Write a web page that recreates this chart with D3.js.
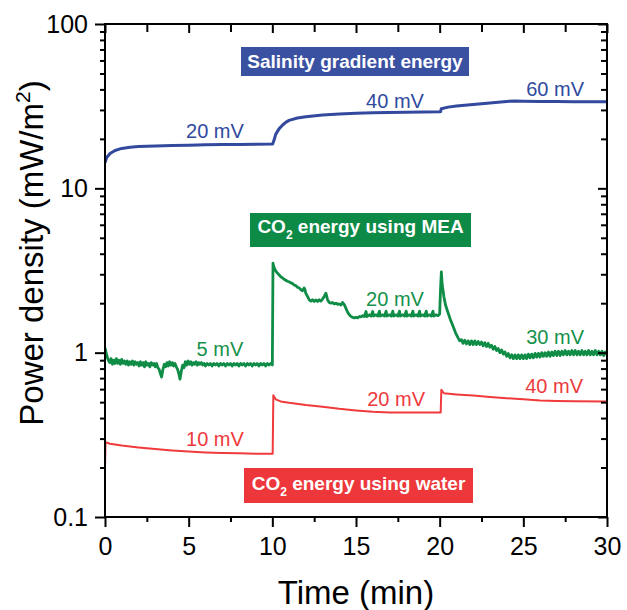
<!DOCTYPE html>
<html>
<head>
<meta charset="utf-8">
<script src="https://cdn.jsdelivr.net/npm/d3@7/dist/d3.min.js"></script>
<style>
  html, body { margin: 0; padding: 0; background: #fff; }
  svg { display: block; }
  text { font-family: "Liberation Sans", Arial, sans-serif; }
</style>
</head>
<body>
<svg id="chart" width="627" height="610"></svg>
<script>
// ---------------- DATA ----------------
const xTicks = [0, 5, 10, 15, 20, 25, 30];
const xMinorTicks = [2.5, 7.5, 12.5, 17.5, 22.5, 27.5];
const yTicks = [0.1, 1, 10, 100];
const yTickLabels = ["0.1", "1", "10", "100"];
const yMinorTicks = [0.2,0.3,0.4,0.5,0.6,0.7,0.8,0.9, 2,3,4,5,6,7,8,9, 20,30,40,50,60,70,80,90];

const seriesNames = ["Salinity gradient energy", "CO2 energy using MEA", "CO2 energy using water"];

// Salinity gradient energy (blue): [time (min), power density (mW/m2)]
const blueData = [
  [0,14.3],[0.1,15.4],[0.3,16.3],[0.6,17.0],[1,17.5],[1.5,17.8],[2,17.95],[3,18.1],[4,18.2],[5,18.3],
  [6,18.4],[7,18.45],[8,18.5],[9,18.55],[10.02,18.6],
  [10.1,19.6],[10.2,21.3],[10.4,23.0],[10.6,24.2],[10.8,25.2],[11,25.9],[11.5,26.8],[12,27.3],[13,27.9],
  [14,28.3],[15,28.6],[16,28.8],[17,28.9],[18,29.0],[19,29.1],[20.05,29.2],
  [20.1,30.5],[20.5,31.2],[21,31.7],[22,32.4],[23,33.1],[24,33.8],[24.5,34.0],[25,33.9],[26,33.8],
  [27,33.8],[28,33.7],[29,33.7],[30,33.6]
];

// CO2 energy using MEA (green)
const greenData = [
  [0,1.07],[0.05,1.02],[0.12,0.95],[0.2,0.9],[0.28,0.87],[0.36,0.92],[0.44,0.85],[0.52,0.9],[0.6,0.86],[0.68,0.92],
  [0.76,0.86],[0.84,0.9],[0.92,0.85],[1.0,0.91],[1.08,0.86],[1.16,0.89],[1.24,0.85],[1.32,0.89],[1.4,0.84],[1.48,0.88],
  [1.56,0.85],[1.64,0.89],[1.72,0.84],[1.8,0.88],[1.88,0.85],[1.96,0.87],[2.04,0.83],[2.12,0.88],[2.2,0.84],[2.28,0.87],
  [2.36,0.82],[2.44,0.88],[2.52,0.84],[2.6,0.86],[2.68,0.82],[2.76,0.87],[2.84,0.84],[2.92,0.86],[3.0,0.82],[3.08,0.86],
  [3.16,0.81],[3.24,0.79],[3.32,0.74],[3.38,0.71],[3.46,0.79],[3.54,0.85],[3.62,0.82],[3.7,0.87],[3.78,0.83],[3.86,0.88],
  [3.94,0.84],[4.02,0.87],[4.1,0.83],[4.18,0.86],[4.26,0.82],[4.34,0.79],[4.42,0.74],[4.48,0.69],[4.56,0.77],[4.64,0.84],
  [4.72,0.81],[4.8,0.88],[4.88,0.84],[4.96,0.89],[5.04,0.85],[5.12,0.88],[5.2,0.84],[5.28,0.87],[5.36,0.85],[5.44,0.88],
  [5.52,0.84],[5.6,0.87],[5.68,0.85],[5.76,0.87],[5.84,0.84],[5.92,0.86],[6.0,0.83],[6.1,0.86],[6.2,0.84],[6.3,0.86],
  [6.4,0.83],[6.5,0.86],[6.6,0.84],[6.7,0.86],[6.8,0.83],[6.9,0.86],[7.0,0.84],[7.1,0.86],[7.2,0.83],[7.3,0.86],
  [7.4,0.84],[7.5,0.86],[7.6,0.83],[7.7,0.86],[7.8,0.84],[7.9,0.86],[8.0,0.83],[8.1,0.86],[8.2,0.84],[8.3,0.86],
  [8.4,0.83],[8.5,0.86],[8.6,0.84],[8.7,0.86],[8.8,0.83],[8.9,0.86],[9.0,0.84],[9.1,0.86],[9.2,0.83],[9.3,0.86],
  [9.4,0.84],[9.5,0.86],[9.6,0.83],[9.7,0.86],[9.8,0.84],[9.9,0.86],[10.0,0.84],
  [10.04,3.5],[10.1,3.3],[10.2,3.15],[10.3,3.05],[10.4,2.98],[10.5,2.9],[10.6,2.86],[10.7,2.8],[10.8,2.76],[10.9,2.72],
  [11.0,2.7],[11.1,2.66],[11.2,2.64],[11.3,2.58],[11.4,2.56],[11.5,2.5],[11.6,2.48],[11.7,2.42],[11.8,2.38],[11.9,2.48],
  [11.95,2.42],[12.0,2.3],[12.1,2.2],[12.2,2.1],[12.3,2.06],[12.4,2.1],[12.5,2.05],[12.6,2.09],[12.7,2.05],[12.8,2.1],
  [12.9,2.06],[13.0,2.12],[13.1,2.2],[13.2,2.3],[13.3,2.1],[13.4,2.02],[13.5,2.0],[13.6,2.02],[13.7,1.98],[13.8,2.0],
  [13.9,1.97],[14.0,1.98],[14.1,1.95],[14.2,2.02],[14.3,1.96],[14.4,1.86],[14.5,1.76],[14.6,1.7],[14.7,1.66],[14.8,1.64],
  [14.9,1.63],[15.0,1.64],[15.1,1.63],[15.2,1.66],[15.3,1.65],[15.4,1.68],[15.5,1.66],[15.6,1.78],[15.65,1.66],[15.8,1.7],
  [15.9,1.67],[16.0,1.78],[16.05,1.67],[16.2,1.7],[16.3,1.67],[16.4,1.79],[16.45,1.67],[16.6,1.7],[16.7,1.67],[16.8,1.79],
  [16.85,1.67],[17.0,1.7],[17.1,1.67],[17.2,1.79],[17.25,1.67],[17.4,1.7],[17.5,1.67],[17.6,1.79],[17.65,1.67],[17.8,1.7],
  [17.9,1.67],[18.0,1.79],[18.05,1.67],[18.2,1.7],[18.3,1.67],[18.4,1.79],[18.45,1.67],[18.6,1.7],[18.7,1.67],[18.8,1.79],
  [18.85,1.67],[19.0,1.7],[19.1,1.67],[19.2,1.79],[19.25,1.67],[19.4,1.7],[19.5,1.67],[19.6,1.79],[19.65,1.67],[19.8,1.7],
  [19.9,1.68],[20.0,1.72],[20.05,2.4],[20.1,3.1],[20.15,2.6],[20.25,2.2],[20.35,1.95],[20.5,1.75],[20.65,1.58],[20.8,1.45],
  [20.95,1.32],[21.1,1.23],[21.2,1.18],
  [21.3,1.2],[21.4,1.14],[21.5,1.19],[21.6,1.13],[21.7,1.18],[21.8,1.12],[21.9,1.18],[22.0,1.12],[22.1,1.18],[22.2,1.12],
  [22.3,1.17],[22.4,1.12],[22.5,1.16],[22.6,1.1],[22.7,1.15],[22.8,1.09],[22.9,1.14],[23.0,1.08],[23.1,1.11],[23.2,1.05],
  [23.3,1.09],[23.4,1.03],[23.5,1.06],[23.6,1.0],[23.7,1.04],[23.8,0.98],[23.9,1.01],[24.0,0.95],[24.1,0.99],[24.2,0.93],
  [24.3,0.97],[24.4,0.92],[24.5,0.97],[24.6,0.92],[24.7,0.97],[24.8,0.92],[24.9,0.97],[25.0,0.92],[25.1,0.97],[25.2,0.92],
  [25.3,0.98],[25.4,0.93],[25.5,0.98],[25.6,0.93],[25.7,0.99],[25.8,0.94],[25.9,0.99],[26.0,0.94],[26.1,1.0],[26.2,0.95],
  [26.3,1.0],[26.4,0.95],[26.5,1.01],[26.6,0.95],[26.7,1.01],[26.8,0.96],[26.9,1.02],[27.0,0.96],[27.1,1.02],[27.2,0.96],
  [27.3,1.02],[27.4,0.97],[27.5,1.03],[27.6,0.97],[27.7,1.02],[27.8,0.97],[27.9,1.03],[28.0,0.97],[28.1,1.03],[28.2,0.97],
  [28.3,1.02],[28.4,0.97],[28.5,1.03],[28.6,0.97],[28.7,1.02],[28.8,0.97],[28.9,1.03],[29.0,0.97],[29.1,1.02],[29.2,0.97],
  [29.3,1.03],[29.4,0.97],[29.5,1.02],[29.6,0.97],[29.7,1.02],[29.8,0.96],[29.9,1.01],[30.0,0.97]
];

// CO2 energy using water (red)
const redData = [
  [0,0.2],[0.03,0.285],[0.3,0.279],[1,0.272],[2,0.265],[3,0.259],[4,0.254],[5,0.25],[6,0.247],[7,0.245],
  [8,0.244],[9,0.243],[10.02,0.243],
  [10.06,0.55],[10.2,0.52],[10.5,0.505],[11,0.495],[12,0.48],[13,0.468],[14,0.455],[15,0.445],[16,0.437],
  [17,0.433],[18,0.432],[20.06,0.432],
  [20.1,0.595],[20.25,0.566],[21,0.557],[22,0.548],[23,0.538],[24,0.528],[25,0.52],[26,0.512],[27,0.508],
  [28,0.506],[30,0.505]
];

// Voltage annotations: [series index, text, time, power density]
const voltageLabels = [
  [0, "20 mV", 6.57, 20.3], [0, "40 mV", 17.33, 30.9], [0, "60 mV", 26.9, 36.5],
  [1, "5 mV", 6.87, 0.96], [1, "20 mV", 17.33, 1.93], [1, "30 mV", 26.9, 1.13],
  [2, "10 mV", 6.57, 0.272], [2, "20 mV", 17.4, 0.476], [2, "40 mV", 26.84, 0.571]
];

const xTitle = "Time (min)";
const yTitle = "Power density (mW/m";

// ---------------- STYLE / LAYOUT ----------------
const lineColors = ["#33499e", "#0f8c46", "#f03a3c"];
const labelColors = ["#2f4a9e", "#16914b", "#ee3a3c"];
const boxColors = ["#3a51a2", "#0c8a46", "#ed373a"];
const lineWidths = [3, 2.8, 2];

const margin = { left: 105, right: 607, top: 24, bottom: 517 };
const svg = d3.select("#chart");

const x = d3.scaleLinear().domain([0, 30]).range([margin.left, margin.right]);
const y = d3.scaleLog().domain([0.1, 100]).range([margin.bottom, margin.top]);

svg.append("defs").append("clipPath").attr("id", "plotclip")
  .append("rect").attr("x", margin.left).attr("y", margin.top)
  .attr("width", margin.right - margin.left).attr("height", margin.bottom - margin.top);

// Lines
const line = d3.line().x(d => x(d[0])).y(d => y(d[1]));
const plot = svg.append("g").attr("clip-path", "url(#plotclip)");
[blueData, greenData, redData].forEach((data, i) => {
  plot.append("path").datum(data)
    .attr("d", line)
    .attr("fill", "none")
    .attr("stroke", lineColors[i])
    .attr("stroke-width", lineWidths[i])
    .attr("stroke-linejoin", "round");
});

// Axes
function styleAxis(g) {
  g.select(".domain").remove();
  g.selectAll(".tick line").attr("stroke", "#000").attr("stroke-width", 2);
  g.selectAll(".tick text").attr("fill", "#000")
    .style("font-family", '"Liberation Sans", Arial, sans-serif').style("font-size", "25px");
}

svg.append("g").attr("transform", `translate(0,${margin.bottom})`)
  .call(d3.axisBottom(x).tickValues(xTicks).tickSize(10).tickPadding(10).tickFormat(d3.format("d")))
  .call(styleAxis);
svg.append("g").attr("transform", `translate(0,${margin.bottom})`)
  .call(d3.axisBottom(x).tickValues(xMinorTicks).tickSize(5).tickFormat(""))
  .call(styleAxis);
svg.append("g").attr("transform", `translate(0,${margin.top})`)
  .call(d3.axisTop(x).tickValues(xTicks).tickSize(-9).tickFormat(""))
  .call(styleAxis);
svg.append("g").attr("transform", `translate(0,${margin.top})`)
  .call(d3.axisTop(x).tickValues(xMinorTicks).tickSize(-8).tickFormat(""))
  .call(styleAxis);

svg.append("g").attr("transform", `translate(${margin.left},0)`)
  .call(d3.axisLeft(y).tickValues(yTicks).tickSize(10).tickPadding(7)
    .tickFormat((d, i) => yTickLabels[i]))
  .call(styleAxis);
svg.append("g").attr("transform", `translate(${margin.left},0)`)
  .call(d3.axisLeft(y).tickValues(yMinorTicks).tickSize(5).tickFormat(""))
  .call(styleAxis);
svg.append("g").attr("transform", `translate(${margin.right},0)`)
  .call(d3.axisRight(y).tickValues(yTicks).tickSize(-9).tickFormat(""))
  .call(styleAxis);
svg.append("g").attr("transform", `translate(${margin.right},0)`)
  .call(d3.axisRight(y).tickValues(yMinorTicks).tickSize(-6).tickFormat(""))
  .call(styleAxis);

// Frame
svg.append("rect")
  .attr("x", margin.left).attr("y", margin.top)
  .attr("width", margin.right - margin.left).attr("height", margin.bottom - margin.top)
  .attr("fill", "none").attr("stroke", "#000").attr("stroke-width", 2);

// Voltage labels
svg.append("g").selectAll("text").data(voltageLabels).join("text")
  .attr("x", d => x(d[2])).attr("y", d => y(d[3]))
  .attr("text-anchor", "middle")
  .attr("fill", d => labelColors[d[0]])
  .style("font-size", "20px")
  .text(d => d[1]);

// Legend boxes
const boxes = [
  { x0: 241, x1: 469, y0: 47, y1: 76, base: 68 },
  { x0: 250, x1: 471, y0: 213, y1: 247, base: 233 },
  { x0: 244, x1: 473, y0: 468, y1: 503, base: 490 }
];
boxes.forEach((b, i) => {
  svg.append("rect").attr("x", b.x0).attr("y", b.y0)
    .attr("width", b.x1 - b.x0).attr("height", b.y1 - b.y0)
    .attr("fill", boxColors[i]);
  const t = svg.append("text")
    .attr("x", (b.x0 + b.x1) / 2).attr("y", b.base)
    .attr("text-anchor", "middle").attr("fill", "#fff")
    .style("font-size", "19px").style("font-weight", "bold");
  const name = seriesNames[i];
  if (name.startsWith("CO2")) {
    t.append("tspan").text("CO");
    t.append("tspan").attr("dy", 6).style("font-size", "12px").text("2");
    t.append("tspan").attr("dy", -6).text(name.slice(3));
  } else {
    t.text(name);
  }
});

// Axis titles
svg.append("text")
  .attr("x", (margin.left + margin.right) / 2).attr("y", 604)
  .attr("text-anchor", "middle").style("font-size", "33px").attr("fill", "#000")
  .text(xTitle);

const yt = svg.append("text")
  .attr("transform", "translate(43,253) rotate(-90)")
  .attr("text-anchor", "middle").style("font-size", "33px").attr("fill", "#000");
yt.append("tspan").text(yTitle);
yt.append("tspan").attr("dy", -13).style("font-size", "21px").text("2");
yt.append("tspan").attr("dy", 13).text(")");
</script>
</body>
</html>
